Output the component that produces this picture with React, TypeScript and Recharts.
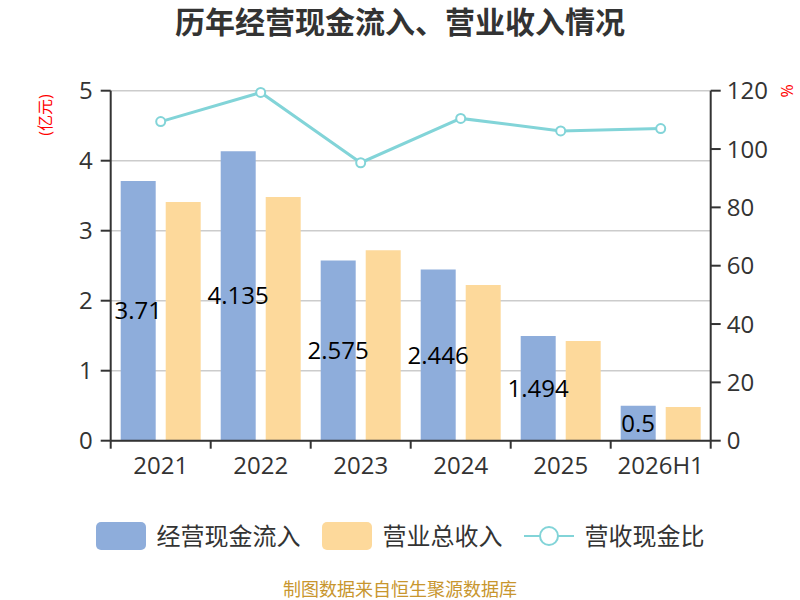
import React from 'react';
import { ComposedChart, Bar, Line, XAxis, YAxis, CartesianGrid, LabelList } from 'recharts';

const categories = ['2021', '2022', '2023', '2024', '2025', '2026H1'];
const cashInflow = [3.71, 4.135, 2.575, 2.446, 1.494, 0.5];
const revenue = [3.41, 3.48, 2.72, 2.224, 1.424, 0.481];
const ratio = [109.4, 119.4, 95.3, 110.5, 106.2, 107.0];
const leftTicks = [0, 1, 2, 3, 4, 5];
const rightTicks = [0, 20, 40, 60, 80, 100, 120];

const seriesNames = ['经营现金流入', '营业总收入', '营收现金比'];
const BLUE = '#8eaddb';
const ORANGE = '#fdd99b';
const CYAN = '#82d4d8';

const data = categories.map((c, i) => ({
  name: c,
  cash: cashInflow[i],
  revenue: revenue[i],
  ratio: ratio[i],
}));

const FONT = "'Open Sans', 'Noto Sans CJK SC', sans-serif";

function XTick(props: any) {
  const { x, y, payload, index, visibleTicksCount, width } = props;
  const half = payload && typeof payload.offset === 'number' && payload.offset > 0
    ? payload.offset
    : width / visibleTicksCount / 2;
  const axisY = y - 16;
  return (
    <g>
      <line x1={x - half} x2={x - half} y1={axisY} y2={axisY + 8} stroke="#333" strokeWidth={2} />
      {index === visibleTicksCount - 1 && (
        <line x1={x + half} x2={x + half} y1={axisY} y2={axisY + 8} stroke="#333" strokeWidth={2} />
      )}
      <text x={x} y={y} dy="0.71em" textAnchor="middle" fill="#333" fontSize={24} fontFamily={FONT}>
        {payload.value}
      </text>
    </g>
  );
}

function LegendItem({ kind, color, label }: { kind: 'rect' | 'line'; color: string; label: string }) {
  return (
    <div style={{ display: 'flex', alignItems: 'center', marginRight: 21 }}>
      {kind === 'rect' ? (
        <div style={{ width: 50, height: 28, borderRadius: 5, background: color }} />
      ) : (
        <svg width={50} height={28}>
          <line x1={0} x2={50} y1={14} y2={14} stroke={color} strokeWidth={2} />
          <circle cx={25} cy={14} r={9} fill="#fff" stroke={color} strokeWidth={2} />
        </svg>
      )}
      <span style={{ marginLeft: 11, fontSize: 24, color: '#333', lineHeight: '28px' }}>{label}</span>
    </div>
  );
}

export default function App() {
  return (
    <div style={{ position: 'absolute', left: 0, top: 0, width: 800, height: 600, background: '#fff', fontFamily: FONT, overflow: 'hidden' }}>
      <div style={{ position: 'absolute', left: 0, top: 7, width: 800, textAlign: 'center', fontSize: 30, fontWeight: 'bold', color: '#333', lineHeight: '30px' }}>
        历年经营现金流入、营业收入情况
      </div>
      <ComposedChart
        width={800}
        height={600}
        data={data}
        margin={{ top: 90.7, right: 29.3, bottom: 119.3, left: 50.7 }}
        barSize={35}
        barGap={10}
      >
        <CartesianGrid yAxisId="left" vertical={false} stroke="#cccccc" strokeWidth={1.5} />
        <XAxis
          dataKey="name"
          height={40}
          tickLine={false}
          tickSize={8}
          tickMargin={8}
          axisLine={{ stroke: '#333', strokeWidth: 2 }}
          tick={<XTick />}
          interval={0}
        />
        <YAxis
          yAxisId="left"
          width={60}
          domain={[0, 5]}
          ticks={leftTicks}
          tickSize={10}
          tickMargin={8}
          axisLine={{ stroke: '#333', strokeWidth: 2 }}
          tickLine={{ stroke: '#333', strokeWidth: 2 }}
          tick={{ fill: '#333', fontSize: 24 }}
        />
        <YAxis
          yAxisId="right"
          orientation="right"
          width={60}
          domain={[0, 120]}
          ticks={rightTicks}
          tickSize={10}
          tickMargin={6}
          axisLine={{ stroke: '#333', strokeWidth: 2 }}
          tickLine={{ stroke: '#333', strokeWidth: 2 }}
          tick={{ fill: '#333', fontSize: 24 }}
        />
        <Bar yAxisId="left" dataKey="cash" name={seriesNames[0]} fill={BLUE} isAnimationActive={false}>
          <LabelList dataKey="cash" position="inside" fill="#000" fontSize={24} />
        </Bar>
        <Bar yAxisId="left" dataKey="revenue" name={seriesNames[1]} fill={ORANGE} isAnimationActive={false} />
        <Line
          yAxisId="right"
          type="linear"
          dataKey="ratio"
          name={seriesNames[2]}
          stroke={CYAN}
          strokeWidth={3}
          dot={{ r: 4.5, fill: '#fff', stroke: CYAN, strokeWidth: 2 }}
          isAnimationActive={false}
        />
      </ComposedChart>
      <div style={{ position: 'absolute', left: 45, top: 115, transform: 'translate(-50%, -50%) rotate(-90deg)', color: '#ff0000', fontSize: 16, whiteSpace: 'nowrap', lineHeight: '16px' }}>
        (亿元)
      </div>
      <div style={{ position: 'absolute', left: 787, top: 91, transform: 'translate(-50%, -50%) rotate(-90deg)', color: '#ff0000', fontSize: 16, whiteSpace: 'nowrap', lineHeight: '16px' }}>
        %
      </div>
      <div style={{ position: 'absolute', left: 0, top: 522, width: 800, display: 'flex', justifyContent: 'center', paddingLeft: 21, boxSizing: 'border-box' }}>
        <LegendItem kind="rect" color={BLUE} label={seriesNames[0]} />
        <LegendItem kind="rect" color={ORANGE} label={seriesNames[1]} />
        <LegendItem kind="line" color={CYAN} label={seriesNames[2]} />
      </div>
      <div style={{ position: 'absolute', left: 0, top: 580, width: 800, textAlign: 'center', fontSize: 18, color: '#c8962e', lineHeight: '18px' }}>
        制图数据来自恒生聚源数据库
      </div>
    </div>
  );
}
